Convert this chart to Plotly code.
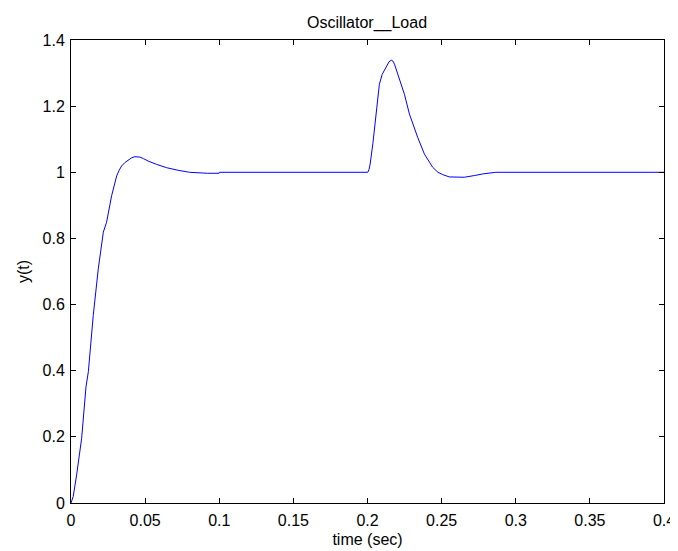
import plotly.graph_objects as go

time_s = [0.0, 0.0015, 0.0038, 0.0072, 0.0101, 0.0117, 0.015, 0.0184, 0.0218, 0.024,
          0.0274, 0.0308, 0.0325, 0.0341, 0.0365, 0.0386, 0.041, 0.0431, 0.0465, 0.049,
          0.052, 0.0577, 0.0644, 0.0723, 0.080, 0.092, 0.0999, 0.1001, 0.15, 0.2002,
          0.201, 0.2018, 0.2036, 0.2059, 0.208, 0.2099, 0.2126, 0.2145, 0.216, 0.2172,
          0.2182, 0.2215, 0.2249, 0.2283, 0.2339, 0.2384, 0.244, 0.2475, 0.2507, 0.2552,
          0.2653, 0.272, 0.2777, 0.2866, 0.33, 0.4]
y_vals = [0.0, 0.02, 0.085, 0.196, 0.351, 0.397, 0.567, 0.708, 0.819, 0.849,
          0.929, 0.989, 1.006, 1.019, 1.03, 1.037, 1.044, 1.047, 1.046, 1.041,
          1.034, 1.024, 1.014, 1.006, 1.0, 0.997, 0.997, 1.0, 1.0, 1.0,
          1.008, 1.025, 1.086, 1.176, 1.266, 1.296, 1.321, 1.334, 1.339, 1.336,
          1.327, 1.281, 1.236, 1.176, 1.105, 1.055, 1.015, 1.0, 0.993, 0.986,
          0.985, 0.99, 0.995, 1.0, 1.0, 1.0]

x_ticks = [0, 0.05, 0.1, 0.15, 0.2, 0.25, 0.3, 0.35, 0.4]
x_tick_labels = ["0", "0.05", "0.1", "0.15", "0.2", "0.25", "0.3", "0.35", "0.4"]
y_ticks = [0, 0.2, 0.4, 0.6, 0.8, 1.0, 1.2, 1.4]
y_tick_labels = ["0", "0.2", "0.4", "0.6", "0.8", "1", "1.2", "1.4"]

fig = go.Figure()
fig.add_trace(go.Scatter(x=time_s, y=y_vals, mode="lines",
                         line=dict(color="#0000ff", width=1),
                         showlegend=False))

# page body has an 8px margin, so the figure is made 8px smaller and shifted
W, H = 670, 543
font = dict(family="Liberation Sans, Arial, sans-serif", size=16, color="black")
axis_common = dict(showgrid=False, zeroline=False, showline=True, linecolor="black",
                   linewidth=1, mirror="ticks", ticks="inside", ticklen=5,
                   tickcolor="black", tickfont=font, automargin=False)

fig.update_layout(
    template="none",
    width=W, height=H,
    margin=dict(l=63, r=14, t=32, b=48, pad=0),
    paper_bgcolor="white", plot_bgcolor="white",
    font=font,
    title=dict(text="Oscillator__Load", x=359 / W, xanchor="center",
               y=1 - 14 / H, yanchor="middle", yref="container",
               font=font),
    xaxis=dict(range=[0, 0.4], tickvals=x_ticks, ticktext=x_tick_labels,
               ticklabelstandoff=3,
               title=dict(text="time (sec)", standoff=5, font=font), **axis_common),
    yaxis=dict(range=[0, 1.4], tickvals=y_ticks, ticktext=y_tick_labels,
               ticklabelstandoff=2,
               title=dict(text="y(t)", standoff=8, font=font), **axis_common),
)

fig.write_html("out.html")
